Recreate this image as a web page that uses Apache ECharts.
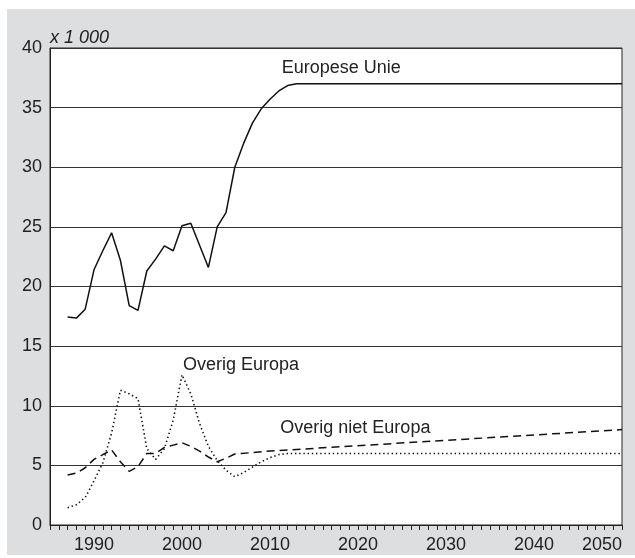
<!DOCTYPE html>
<html>
<head>
<meta charset="utf-8">
<script src="https://cdn.jsdelivr.net/npm/echarts@6/dist/echarts.min.js"></script>
<style>
  html, body { margin: 0; padding: 0; background: #fff; }
  #chart { position: absolute; left: 7px; top: 9px; width: 628px; height: 546px; }
</style>
</head>
<body>
<div id="chart"></div>
<script>
// jaren en waarden (x 1 000)
var euYears = [1987, 1988, 1989, 1990, 1991, 1992, 1993, 1994, 1995, 1996, 1997, 1998, 1999, 2000, 2001, 2003, 2004, 2005, 2006, 2007, 2008, 2009, 2010, 2011, 2012, 2013, 2050]
var euValues = [17.45, 17.35, 18.1, 21.4, 23.0, 24.5, 22.2, 18.4, 18.0, 21.3, 22.3, 23.4, 23.0, 25.1, 25.3, 21.6, 25.0, 26.2, 30.0, 32.0, 33.7, 34.9, 35.7, 36.4, 36.85, 37.0, 37.0]

var oeYears = [1987, 1988, 1989, 1990, 1991, 1992, 1993, 1994, 1995, 1996, 1997, 1998, 1999, 2000, 2001, 2002, 2003, 2004, 2005, 2006, 2007, 2008, 2009, 2010, 2011, 2012, 2050]
var oeValues = [1.45, 1.7, 2.3, 3.7, 5.2, 7.7, 11.3, 11.0, 10.6, 6.4, 5.5, 6.4, 8.8, 12.6, 11.0, 8.5, 6.6, 5.4, 4.6, 4.05, 4.4, 4.85, 5.3, 5.65, 5.9, 6.0, 6.0]

var onYears = [1987, 1988, 1989, 1990, 1991, 1992, 1993, 1994, 1995, 1996, 1997, 1998, 1999, 2000, 2001, 2002, 2003, 2004, 2005, 2006, 2010, 2050]
var onValues = [4.2, 4.35, 4.8, 5.5, 5.9, 6.3, 5.3, 4.5, 4.9, 6.0, 6.0, 6.5, 6.7, 6.9, 6.6, 6.2, 5.7, 5.3, 5.6, 5.95, 6.2, 8.0]

var yTicks = [0, 5, 10, 15, 20, 25, 30, 35, 40]
var xLabelYears = [1990, 2000, 2010, 2020, 2030, 2040, 2050]

// plaats van de lijnnamen in de figuur [jaar, waarde]
var euLabelAt = [2018.1, 38.3]
var oeLabelAt = [2006.7, 13.4]
var onLabelAt = [2019.7, 8.1]

var font = 'Liberation Sans, Arial, sans-serif'

function pairs (xs, ys) {
  return xs.map(function (x, i) { return [x, ys[i]] })
}

function tag (text, at) {
  return {
    symbol: 'circle',
    symbolSize: 1,
    itemStyle: { color: 'rgba(0,0,0,0)' },
    label: {
      show: true,
      position: 'inside',
      formatter: text,
      color: '#222',
      fontSize: 18,
      fontFamily: font
    },
    data: [{ coord: at }]
  }
}

var option = {
  backgroundColor: '#dddee0',
  animation: false,
  grid: {
    left: 43,
    top: 39,
    right: 13,
    bottom: 30,
    show: true,
    backgroundColor: '#fff',
    borderColor: '#222',
    borderWidth: 1
  },
  xAxis: {
    type: 'value',
    min: 1985,
    max: 2050,
    interval: 1,
    axisLine: { show: true, lineStyle: { color: '#222', width: 1 } },
    axisTick: { show: true, length: 5, lineStyle: { color: '#222' } },
    axisLabel: {
      margin: 11,
      color: '#222',
      fontSize: 18,
      fontFamily: font,
      alignMaxLabel: 'right',
      formatter: function (v) {
        return xLabelYears.indexOf(v) > -1 ? String(v) : ''
      }
    },
    splitLine: { show: false }
  },
  yAxis: {
    type: 'value',
    min: yTicks[0],
    max: yTicks[yTicks.length - 1],
    interval: 5,
    name: 'x 1 000',
    nameLocation: 'end',
    nameGap: 1,
    nameTextStyle: {
      align: 'left',
      fontStyle: 'italic',
      color: '#222',
      fontSize: 18,
      fontFamily: font
    },
    axisLine: { show: true, lineStyle: { color: '#222', width: 1 } },
    axisTick: { show: false },
    axisLabel: { margin: 8, color: '#222', fontSize: 18, fontFamily: font },
    splitLine: { show: true, lineStyle: { color: '#333', width: 1 } }
  },
  series: [
    {
      name: 'Europese Unie',
      type: 'line',
      showSymbol: false,
      data: pairs(euYears, euValues),
      lineStyle: { color: '#111', width: 1.5 },
      markPoint: tag('Europese Unie', euLabelAt)
    },
    {
      name: 'Overig Europa',
      type: 'line',
      showSymbol: false,
      data: pairs(oeYears, oeValues),
      lineStyle: { color: '#111', width: 1.6, type: [1.4, 2.8] },
      markPoint: tag('Overig Europa', oeLabelAt)
    },
    {
      name: 'Overig niet Europa',
      type: 'line',
      showSymbol: false,
      data: pairs(onYears, onValues),
      lineStyle: { color: '#111', width: 1.5, type: [8, 5] },
      markPoint: tag('Overig niet Europa', onLabelAt)
    }
  ]
}

var myChart = echarts.init(document.getElementById('chart'))
myChart.setOption(option)
</script>
</body>
</html>
